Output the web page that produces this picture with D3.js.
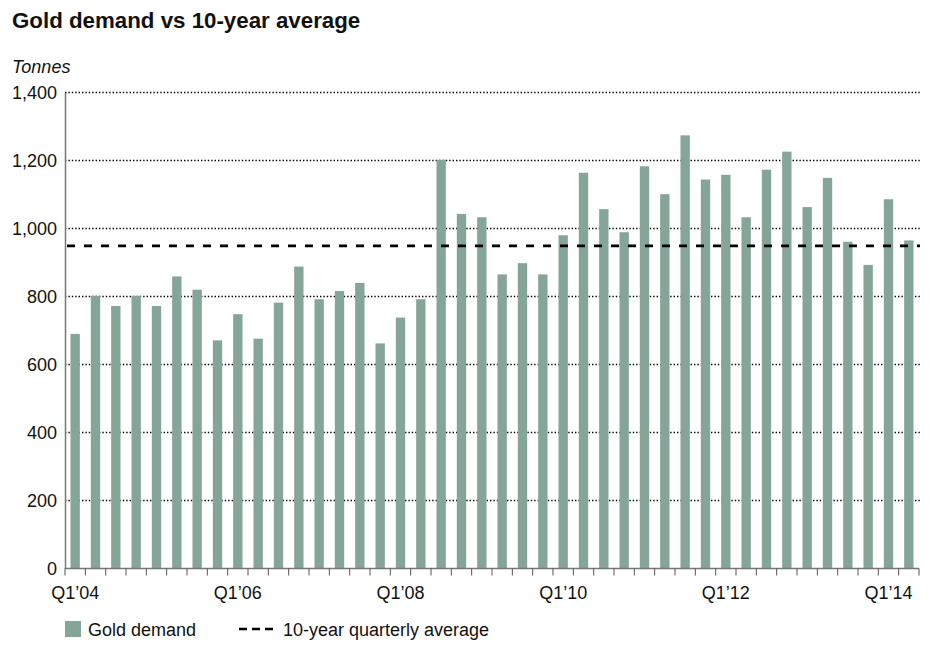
<!DOCTYPE html>
<html>
<head>
<meta charset="utf-8">
<script src="https://cdn.jsdelivr.net/npm/d3@7"></script>
<style>
  body { margin: 0; background: #fff; }
  text { font-family: "Liberation Sans", Arial, sans-serif; fill: #111; }
</style>
</head>
<body>
<svg id="chart" width="936" height="654"></svg>
<script>
// quarters Q1'04 .. Q2'14
var quarters = [];
for (var yr = 4; yr <= 14; yr++) {
  for (var q = 1; q <= 4; q++) {
    if (yr === 14 && q > 2) break;
    quarters.push("Q" + q + "\u2019" + (yr < 10 ? "0" + yr : yr));
  }
}

var demand = [690, 802, 772, 802, 772, 859, 820, 671, 748, 676,
              782, 888, 792, 816, 840, 662, 738, 792, 1202, 1043,
              1033, 865, 898, 865, 980, 1164, 1057, 989, 1183, 1101,
              1274, 1144, 1158, 1033, 1173, 1226, 1063, 1149, 961, 893,
              1086, 965];

var average = 949;

var yTicks = [0, 200, 400, 600, 800, 1000, 1200, 1400];
var xLabels = ["Q1\u201904", "Q1\u201906", "Q1\u201908", "Q1\u201910", "Q1\u201912", "Q1\u201914"];

var svg = d3.select("svg#chart"),
    margin = {top: 92.5, right: 17, bottom: 85.5, left: 65};

var width = +svg.attr("width") - margin.left - margin.right,
    height = +svg.attr("height") - margin.top - margin.bottom;

var x = d3.scaleBand()
    .domain(quarters)
    .range([0, width])
    .paddingInner(0.54)
    .paddingOuter(0.27);

var y = d3.scaleLinear()
    .domain([0, 1400])
    .range([height, 0]);

var data = quarters.map(function(d, i) { return {q: d, v: demand[i]}; });

svg.append("text")
    .attr("x", 12)
    .attr("y", 28)
    .attr("font-size", 22.3)
    .attr("font-weight", "bold")
    .text("Gold demand vs 10-year average");

svg.append("text")
    .attr("x", 12)
    .attr("y", 73)
    .attr("font-size", 18)
    .attr("font-style", "italic")
    .text("Tonnes");

var g = svg.append("g").attr("transform", "translate(" + margin.left + "," + margin.top + ")");

// dotted gridlines
g.append("g")
  .selectAll("line")
  .data(yTicks.filter(function(d) { return d > 0; }))
  .enter().append("line")
    .attr("x1", 0)
    .attr("x2", width + 1)
    .attr("y1", function(d) { return y(d); })
    .attr("y2", function(d) { return y(d); })
    .attr("stroke", "#000")
    .attr("stroke-width", 1.5)
    .attr("stroke-dasharray", "1.4,2");

g.append("g")
  .selectAll("rect")
  .data(data)
  .enter().append("rect")
    .attr("x", function(d) { return x(d.q); })
    .attr("y", function(d) { return y(d.v); })
    .attr("width", x.bandwidth())
    .attr("height", function(d) { return height - y(d.v); })
    .attr("fill", "#85a598");

// 10-year average
g.append("line")
    .attr("x1", 2)
    .attr("x2", width + 1)
    .attr("y1", y(average))
    .attr("y2", y(average))
    .attr("stroke", "#000")
    .attr("stroke-width", 2.6)
    .attr("stroke-dasharray", "8,9");

// y axis
var yAxis = g.append("g")
    .call(d3.axisLeft(y).tickValues(yTicks).tickSize(0).tickPadding(8).tickFormat(d3.format(",")));
yAxis.select(".domain").attr("stroke", "#777").attr("stroke-width", 1.5);
yAxis.selectAll("text").attr("font-size", 18).attr("font-family", null).attr("fill", "#111");

// x axis baseline + boundary ticks
var step = x.step();
g.append("line")
    .attr("x1", 0).attr("x2", width)
    .attr("y1", height).attr("y2", height)
    .attr("stroke", "#777").attr("stroke-width", 1.5);

g.append("g")
  .selectAll("line")
  .data(d3.range(quarters.length + 1))
  .enter().append("line")
    .attr("x1", function(i) { return i < quarters.length ? x(quarters[i]) - step * 0.27 : width; })
    .attr("x2", function(i) { return i < quarters.length ? x(quarters[i]) - step * 0.27 : width; })
    .attr("y1", height)
    .attr("y2", height + 7)
    .attr("stroke", "#555")
    .attr("stroke-width", 1);

g.append("g")
  .selectAll("text")
  .data(xLabels)
  .enter().append("text")
    .attr("x", function(d) { return x(d) + x.bandwidth() / 2; })
    .attr("y", height + 30)
    .attr("text-anchor", "middle")
    .attr("font-size", 18)
    .text(function(d) { return d; });

// legend
var legend = svg.append("g").attr("transform", "translate(65,621)");

legend.append("rect")
    .attr("width", 16)
    .attr("height", 16)
    .attr("fill", "#85a598");

legend.append("text")
    .attr("x", 23)
    .attr("y", 15)
    .attr("font-size", 18)
    .text("Gold demand");

legend.append("line")
    .attr("x1", 174).attr("x2", 212)
    .attr("y1", 8).attr("y2", 8)
    .attr("stroke", "#000")
    .attr("stroke-width", 2.6)
    .attr("stroke-dasharray", "8,5");

legend.append("text")
    .attr("x", 218)
    .attr("y", 15)
    .attr("font-size", 18)
    .text("10-year quarterly average");
</script>
</body>
</html>
